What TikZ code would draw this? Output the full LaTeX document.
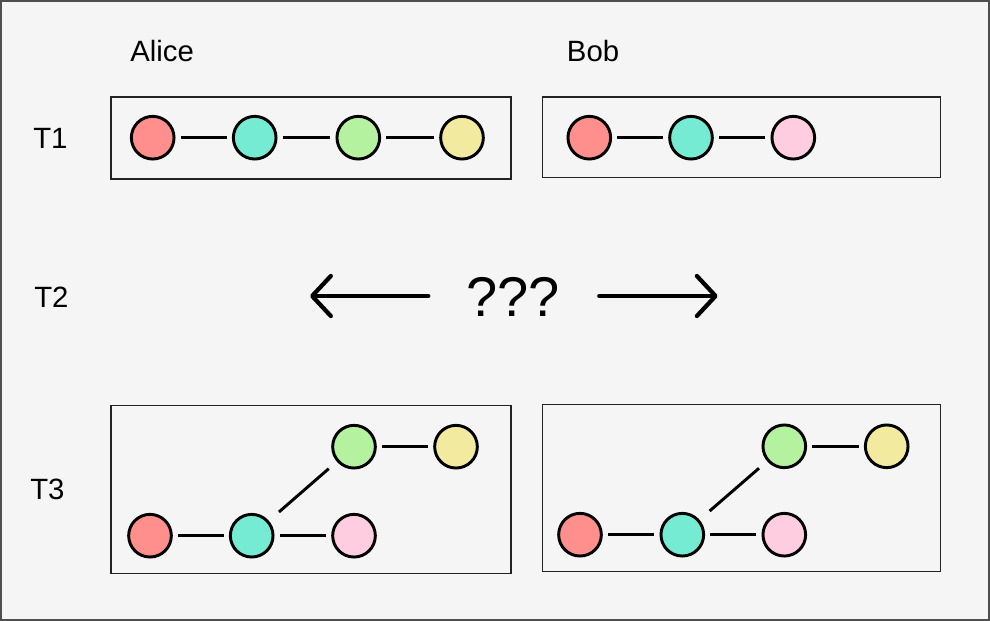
\documentclass[tikz,border=0pt]{standalone}
\usepackage{fontspec}
\setmainfont{Liberation Sans}
\usetikzlibrary{arrows.meta}
\definecolor{bg}{HTML}{F5F5F5}
\definecolor{cred}{HTML}{FF8F8C}
\definecolor{cteal}{HTML}{74EBD2}
\definecolor{cgreen}{HTML}{B5F2A0}
\definecolor{cyellow}{HTML}{F2EA9E}
\definecolor{cpink}{HTML}{FFCCE0}
\definecolor{boxline}{HTML}{222222}
\tikzset{
  dot/.style={circle, draw=black, line width=2.2pt, minimum size=32pt, inner sep=0pt},
  link/.style={line width=2.2pt, shorten >=4pt, shorten <=4pt},
  dlink/.style={line width=2.2pt, shorten >=8pt, shorten <=10pt},
  frame/.style={draw=boxline, line width=0.9pt},
  lab/.style={anchor=base west, inner sep=0pt, font=\fontsize{22pt}{26pt}\selectfont},
  bigarrow/.style={line width=3.2pt, line cap=round, -{Straight Barb[length=14pt, width=30pt, round]}}
}
\begin{document}
\begin{tikzpicture}[x=0.75pt, y=-0.75pt]
\useasboundingbox (0,0) rectangle (990,621);
\fill[bg] (0,0) rectangle (990,621);
\draw[draw=boxline!80, line width=1.5pt] (1,1) rectangle (989,620);

% labels
\node[lab] (alice) at (130,61.7) {Alice};
\node[lab] (bob) at (566.7,61.7) {Bob};
\node[lab] (t1) at (33,148.3) {T1};
\node[lab] (t2) at (34,307.3) {T2};
\node[lab] (t3) at (30,499.3) {T3};

% boxes
\node[frame, minimum width=300pt, minimum height=61.5pt, inner sep=0pt] (b1) at (311,138) {};
\node[frame, minimum width=299pt, minimum height=60.5pt, inner sep=0pt] (b2) at (741.5,137.3) {};
\node[frame, minimum width=300pt, minimum height=125.5pt, inner sep=0pt] (b3) at (311,489.5) {};
\node[frame, minimum width=299pt, minimum height=125.5pt, inner sep=0pt] (b4) at (741.5,488) {};

% Alice T1
\node[dot, fill=cred] (a1) at (152.7,137.7) {};
\node[dot, fill=cteal] (a2) at (254.7,137.7) {};
\node[dot, fill=cgreen] (a3) at (358.3,137.7) {};
\node[dot, fill=cyellow] (a4) at (462,137.7) {};
\draw[link] (a1) -- (a2);
\draw[link] (a2) -- (a3);
\draw[link] (a3) -- (a4);

% Bob T1
\node[dot, fill=cred] (c1) at (589.3,137.7) {};
\node[dot, fill=cteal] (c2) at (691,137.7) {};
\node[dot, fill=cpink] (c3) at (793.3,137.7) {};
\draw[link] (c1) -- (c2);
\draw[link] (c2) -- (c3);

% T2
\node[inner sep=0pt, font=\fontsize{42pt}{46pt}\selectfont] (q) at (513,297) {???};
\coordinate (lstart) at (428.3,296);
\coordinate (lend) at (310,296);
\coordinate (rstart) at (599.3,296);
\coordinate (rend) at (717.7,296);
\draw[bigarrow] (lstart) -- (lend);
\draw[bigarrow] (rstart) -- (rend);

% Alice T3
\node[dot, fill=cred] (d1) at (150,535.7) {};
\node[dot, fill=cteal] (d2) at (251.7,535.7) {};
\node[dot, fill=cpink] (d3) at (354,535.7) {};
\node[dot, fill=cgreen] (d4) at (354,446.7) {};
\node[dot, fill=cyellow] (d5) at (456,446.7) {};
\draw[link] (d1) -- (d2);
\draw[link] (d2) -- (d3);
\draw[dlink] (d2) -- (d4);
\draw[link] (d4) -- (d5);

% Bob T3
\node[dot, fill=cred] (e1) at (580,534.7) {};
\node[dot, fill=cteal] (e2) at (682.3,534.7) {};
\node[dot, fill=cpink] (e3) at (784.3,534.7) {};
\node[dot, fill=cgreen] (e4) at (784.3,446.3) {};
\node[dot, fill=cyellow] (e5) at (886.7,446.3) {};
\draw[link] (e1) -- (e2);
\draw[link] (e2) -- (e3);
\draw[dlink] (e2) -- (e4);
\draw[link] (e4) -- (e5);
\end{tikzpicture}
\end{document}
